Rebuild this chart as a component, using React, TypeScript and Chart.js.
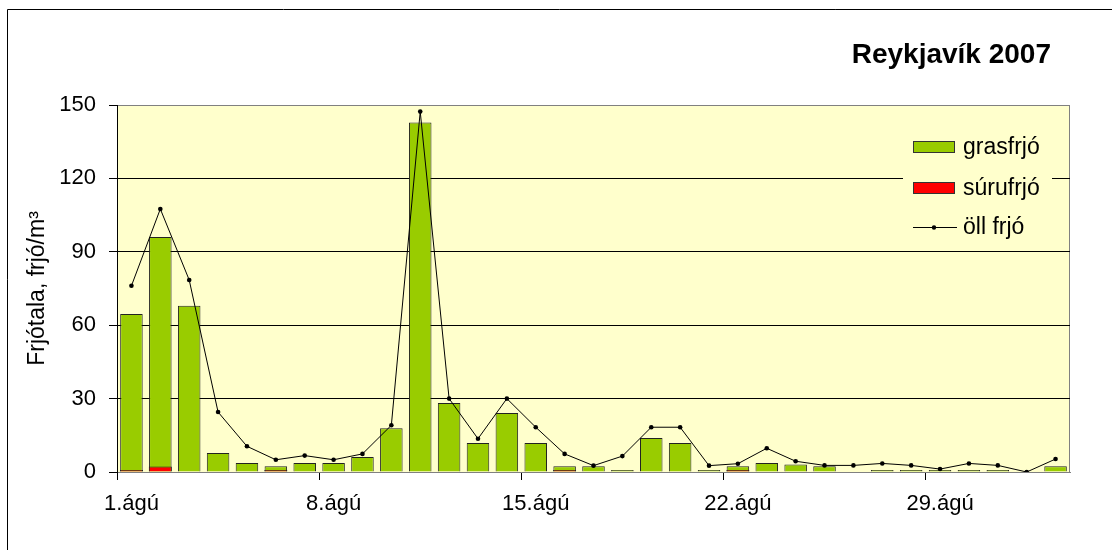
import React, { useEffect, useRef } from "react";
import { Chart, registerables } from "chart.js";

Chart.register(...registerables);

const days: string[] = [
  "1.ágú", "2.ágú", "3.ágú", "4.ágú", "5.ágú", "6.ágú", "7.ágú", "8.ágú", "9.ágú", "10.ágú",
  "11.ágú", "12.ágú", "13.ágú", "14.ágú", "15.ágú", "16.ágú", "17.ágú", "18.ágú", "19.ágú", "20.ágú",
  "21.ágú", "22.ágú", "23.ágú", "24.ágú", "25.ágú", "26.ágú", "27.ágú", "28.ágú", "29.ágú", "30.ágú",
  "31.ágú", "1.sep", "2.sep",
];

const grasfrjo: (number | null)[] = [
  64.6, 96.1, 67.9, 7.8, 3.7, 2.3, 3.7, 3.7, 6.1, 17.9,
  142.8, 28.2, 11.9, 24.1, 11.9, 2.3, 2.3, 0.8, 13.9, 11.9,
  0.8, 2.3, 3.7, 3.1, 2.3, null, 0.8, 0.8, 0.8, 0.8,
  0.8, null, 2.3,
];

const surufrjo: (number | null)[] = [
  0.8, 2.2, null, null, null, 0.8, null, null, null, null,
  null, null, null, null, null, 0.8, null, null, null, null,
  null, 0.8, null, null, null, null, null, null, null, null,
  null, null, null,
];

const ollFrjo: number[] = [
  76.1, 107.5, 78.5, 24.5, 10.5, 5.0, 6.7, 5.0, 7.4, 19.1,
  147.3, 30.0, 13.6, 30.0, 18.3, 7.4, 2.6, 6.5, 18.3, 18.3,
  2.6, 3.4, 9.7, 4.4, 2.7, 2.7, 3.5, 2.7, 1.2, 3.5,
  2.7, 0, 5.3,
];

const yTicks: number[] = [0, 30, 60, 90, 120, 150];

const chartTitle = "Reykjavík 2007";
const yTitle = "Frjótala, frjó/m³";
const legendNames = ["grasfrjó", "súrufrjó", "öll frjó"];

const FONT = "'Liberation Sans', Arial, sans-serif";
const GREEN = "#99CC00";
const RED = "#FF0000";
const PLOT_BG = "#FFFFCC";

const decorPlugin = {
  id: "decor",
  beforeDraw(chart: any) {
    const { ctx, chartArea } = chart;
    const { left, top, right, bottom } = chartArea;
    ctx.save();
    ctx.fillStyle = PLOT_BG;
    ctx.fillRect(left, top, right - left, bottom - top);
    ctx.strokeStyle = "#808080";
    ctx.lineWidth = 1;
    ctx.beginPath();
    ctx.moveTo(left, top + 0.5);
    ctx.lineTo(right - 0.5, top + 0.5);
    ctx.lineTo(right - 0.5, bottom);
    ctx.stroke();
    // outer frame
    ctx.strokeStyle = "#000";
    ctx.beginPath();
    ctx.moveTo(7.5, 550);
    ctx.lineTo(7.5, 9.5);
    ctx.lineTo(1112, 9.5);
    ctx.stroke();
    ctx.restore();
  },
  afterDraw(chart: any) {
    const { ctx } = chart;
    ctx.save();
    // title
    ctx.fillStyle = "#000";
    ctx.font = `bold 28px ${FONT}`;
    ctx.textAlign = "right";
    ctx.textBaseline = "alphabetic";
    ctx.fillText(chartTitle, 1051, 63);

    // legend
    const lx = 903;
    const ly = 126;
    ctx.fillStyle = PLOT_BG;
    ctx.fillRect(lx, ly, 149, 118);
    const rows = [147, 188, 227];
    const sw = 42;
    const sx = 913;
    ctx.lineWidth = 1;
    ctx.fillStyle = GREEN;
    ctx.fillRect(sx, rows[0] - 6, sw, 12);
    ctx.strokeStyle = "#333";
    ctx.strokeRect(sx + 0.5, rows[0] - 6 + 0.5, sw - 1, 12 - 1);
    ctx.fillStyle = RED;
    ctx.fillRect(sx, rows[1] - 6, sw, 12);
    ctx.strokeRect(sx + 0.5, rows[1] - 6 + 0.5, sw - 1, 12 - 1);
    ctx.strokeStyle = "#000";
    ctx.beginPath();
    ctx.moveTo(sx, rows[2] + 0.5);
    ctx.lineTo(sx + sw + 2, rows[2] + 0.5);
    ctx.stroke();
    ctx.fillStyle = "#000";
    ctx.beginPath();
    ctx.arc(sx + 21, rows[2] + 0.5, 2.2, 0, Math.PI * 2);
    ctx.fill();
    ctx.font = `23px ${FONT}`;
    ctx.textAlign = "left";
    ctx.textBaseline = "middle";
    ctx.fillStyle = "#000";
    legendNames.forEach((n, i) => ctx.fillText(n, 963, rows[i] + 1));
    ctx.restore();
  },
};

export default function App() {
  const ref = useRef<HTMLCanvasElement | null>(null);

  useEffect(() => {
    if (!ref.current) return;
    const chart = new Chart(ref.current, {
      type: "bar",
      data: {
        labels: days,
        datasets: [
          {
            type: "line",
            label: legendNames[2],
            data: ollFrjo,
            borderColor: "#000",
            borderWidth: 1,
            backgroundColor: "#000",
            pointRadius: 2.3,
            pointBackgroundColor: "#000",
            pointBorderWidth: 0,
            tension: 0,
            order: 0,
          } as any,
          {
            type: "bar",
            label: legendNames[1],
            data: surufrjo,
            backgroundColor: RED,
            borderColor: "#222",
            borderWidth: 1,
            grouped: false,
            categoryPercentage: 1,
            barPercentage: 0.8,
            order: 1,
          } as any,
          {
            type: "bar",
            label: legendNames[0],
            data: grasfrjo,
            backgroundColor: GREEN,
            borderColor: "#222",
            borderWidth: 1,
            grouped: false,
            categoryPercentage: 1,
            barPercentage: 0.78,
            order: 2,
          } as any,
        ],
      },
      options: {
        responsive: false,
        animation: false,
        events: [],
        layout: { padding: { top: 105, right: 42, left: 0, bottom: 0 } },
        plugins: {
          legend: { display: false },
          title: { display: false },
          tooltip: { enabled: false },
        },
        scales: {
          x: {
            type: "category",
            offset: true,
            afterFit: (s: any) => {
              s.height = 78;
            },
            border: { display: true, color: "#808080", width: 1 },
            grid: {
              offset: true,
              drawOnChartArea: false,
              drawTicks: true,
              tickLength: 8,
              tickColor: (c: any) => (c.index % 7 === 0 ? "#000" : "rgba(0,0,0,0)"),
              color: "rgba(0,0,0,0)",
            },
            ticks: {
              autoSkip: false,
              maxRotation: 0,
              minRotation: 0,
              padding: 11,
              color: "#000",
              font: { family: FONT, size: 22 },
              callback: (_v: any, i: number) => (i % 7 === 0 ? days[i] : ""),
            },
          },
          y: {
            min: 0,
            max: 150,
            afterFit: (s: any) => {
              s.width = 117;
            },
            afterBuildTicks: (s: any) => {
              s.ticks = yTicks.map((v) => ({ value: v }));
            },
            border: { display: true, color: "#000", width: 1 },
            grid: {
              drawTicks: true,
              tickLength: 8,
              tickColor: "#000",
              color: (c: any) =>
                c.tick && (c.tick.value === 150 || c.tick.value === 0) ? "#808080" : "#000",
            },
            ticks: {
              padding: 13,
              color: "#000",
              font: { family: FONT, size: 22 },
            },
            title: {
              display: true,
              text: yTitle,
              color: "#000",
              font: { family: FONT, size: 23 },
              padding: { top: 24, bottom: 0 },
            },
          },
        },
      },
      plugins: [decorPlugin],
    });
    return () => chart.destroy();
  }, []);

  return (
    <div style={{ position: "fixed", left: 0, top: 0, width: 1112, height: 550, background: "#fff" }}>
      <canvas ref={ref} width={1112} height={550} style={{ display: "block" }} />
    </div>
  );
}
